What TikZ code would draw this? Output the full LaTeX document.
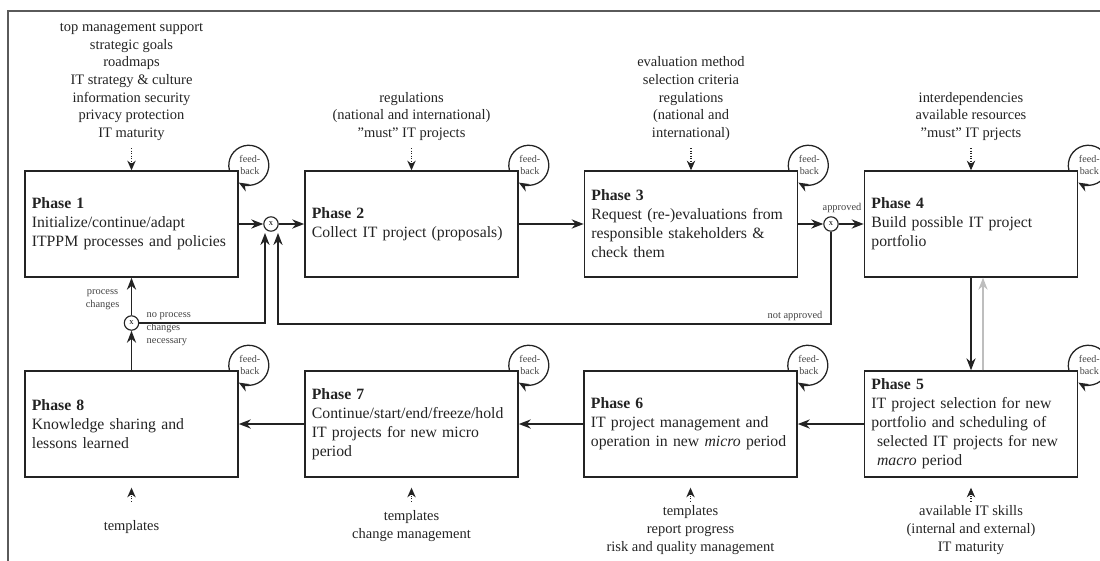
\documentclass[tikz,border=0pt]{standalone}
\usepackage{fontspec}
\setmainfont{Liberation Serif}
\usetikzlibrary{arrows.meta,calc}
\definecolor{ink}{RGB}{35,35,35}
\definecolor{framegray}{RGB}{90,90,90}
\definecolor{backgray}{RGB}{190,190,190}

\begin{document}
\begin{tikzpicture}[x=0.025cm, y=-0.025cm,
  phase/.style={draw=ink, line width=1pt, text=ink, minimum width=5.325cm, minimum height=2.65cm,
    text width=4.98cm, inner xsep=0.175cm, align=left, font=\fontsize{11.2}{13.5}\selectfont\hyphenpenalty10000\relax},
  note/.style={text=ink, align=center, inner sep=0pt, font=\fontsize{10.3}{12.6}\selectfont},
  smalllabel/.style={text=ink!85, inner sep=1pt, font=\fontsize{7.4}{9.2}\selectfont},
  fbtext/.style={text=ink!85, align=center, inner sep=0pt, font=\fontsize{7.2}{8.6}\selectfont},
  gate/.style={circle, draw=ink, line width=0.8pt, minimum size=0.36cm, inner sep=0pt, font=\fontsize{6}{6}\selectfont},
  flow/.style={draw=ink, line width=1pt, -{Stealth[length=3mm,width=2.3mm]}},
  input/.style={draw=ink, line width=0.8pt, densely dotted, -{Stealth[length=2.4mm,width=2.1mm]}},
  loopback/.style={draw=ink, line width=0.9pt, -{Stealth[length=2.6mm,width=2.1mm]}}]
\useasboundingbox (0,0) rectangle (1100,560);

% Frame
\draw[framegray, line width=1.5pt] (8,11) rectangle (1120,580);

% Phase boxes, upper row
\node[phase] (p1) at (131.5,224) {\textbf{Phase 1}\\Initialize/continue/adapt\\ITPPM processes and policies};
\node[phase] (p2) at (411.5,224) {\textbf{Phase 2}\\Collect IT project (proposals)};
\node[phase] (p3) at (691,224) {\textbf{Phase 3}\\Request (re-)evaluations from\\responsible stakeholders \&\\check them};
\node[phase] (p4) at (971,224) {\textbf{Phase 4}\\Build possible IT project\\portfolio};

% Phase boxes, lower row
\node[phase] (p5) at (971,424) {\textbf{Phase 5}\\IT project selection for new\\portfolio and scheduling of\\\hspace*{4pt}selected IT projects for new\\\hspace*{4pt}\textit{macro} period};
\node[phase] (p6) at (690.5,424) {\textbf{Phase 6}\\IT project management and\\operation in new \textit{micro} period};
\node[phase] (p7) at (411.5,424) {\textbf{Phase 7}\\Continue/start/end/freeze/hold\\IT projects for new micro\\period};
\node[phase] (p8) at (131.5,424) {\textbf{Phase 8}\\Knowledge sharing and\\lessons learned};

% Decision gates
\node[gate] (x1) at (271,224) {x};
\node[gate] (x2) at (831,224) {x};
\node[gate] (x3) at (131.5,323) {x};
\coordinate (x1l) at (265,233);
\coordinate (x1r) at (278,233);
\coordinate (retr) at (278,324);

% Main flow
\draw[flow] (p1) -- (x1);
\draw[flow] (x1) -- (p2);
\draw[flow] (p2) -- (p3);
\draw[flow] (p3) -- (x2);
\draw[flow] (x2) -- (p4);
\draw[flow] (x2) |- (retr) -- (x1r);
\draw[flow] (p4.south) -- (p5.north);
\draw[flow, draw=backgray] ([xshift=0.3cm]p5.north) -- ([xshift=0.3cm]p4.south);
\draw[flow] (p5) -- (p6);
\draw[flow] (p6) -- (p7);
\draw[flow] (p7) -- (p8);
\draw[flow] (p8) -- (x3);
\draw[flow] (x3) -- (p1);
\draw[flow] (x3) -| (x1l);

% Gate labels
\node[smalllabel, anchor=south] (lap) at (842,214) {approved};
\node[smalllabel, anchor=south east] (lnap) at (824,322) {not approved};
\node[smalllabel, align=center, anchor=east] (lpc) at (121,300) {process\\changes};
\node[smalllabel, align=left, anchor=north west] (lnpc) at (145,311) {no process\\changes\\necessary};

% Feedback loops
\node[fbtext] (fb1) at ($(p1.north east)+(11,-5)$) {feed-\\back};
\draw[loopback] ($(p1.north east)+(-9.4,0)$) arc[start angle=194.5, end angle=-120, radius=0.5cm];
\node[fbtext] (fb2) at ($(p2.north east)+(11,-5)$) {feed-\\back};
\draw[loopback] ($(p2.north east)+(-9.4,0)$) arc[start angle=194.5, end angle=-120, radius=0.5cm];
\node[fbtext] (fb3) at ($(p3.north east)+(11,-5)$) {feed-\\back};
\draw[loopback] ($(p3.north east)+(-9.4,0)$) arc[start angle=194.5, end angle=-120, radius=0.5cm];
\node[fbtext] (fb4) at ($(p4.north east)+(11,-5)$) {feed-\\back};
\draw[loopback] ($(p4.north east)+(-9.4,0)$) arc[start angle=194.5, end angle=-120, radius=0.5cm];
\node[fbtext] (fb5) at ($(p5.north east)+(11,-5)$) {feed-\\back};
\draw[loopback] ($(p5.north east)+(-9.4,0)$) arc[start angle=194.5, end angle=-120, radius=0.5cm];
\node[fbtext] (fb6) at ($(p6.north east)+(11,-5)$) {feed-\\back};
\draw[loopback] ($(p6.north east)+(-9.4,0)$) arc[start angle=194.5, end angle=-120, radius=0.5cm];
\node[fbtext] (fb7) at ($(p7.north east)+(11,-5)$) {feed-\\back};
\draw[loopback] ($(p7.north east)+(-9.4,0)$) arc[start angle=194.5, end angle=-120, radius=0.5cm];
\node[fbtext] (fb8) at ($(p8.north east)+(11,-5)$) {feed-\\back};
\draw[loopback] ($(p8.north east)+(-9.4,0)$) arc[start angle=194.5, end angle=-120, radius=0.5cm];

% Inputs from above
\node[note, anchor=south] (in1) at (131.5,141) {top management support\\strategic goals\\roadmaps\\IT strategy \& culture\\information security\\privacy protection\\IT maturity};
\node[note, anchor=south] (in2) at (411.5,141) {regulations\\(national and international)\\\symbol{34}must\symbol{34} IT projects};
\node[note, anchor=south] (in3) at (691,141) {evaluation method\\selection criteria\\regulations\\(national and\\international)};
\node[note, anchor=south] (in4) at (971,141) {interdependencies\\available resources\\\symbol{34}must\symbol{34} IT prjects};
\draw[input] (in1.south) ++(0,7) -- (p1.north);
\draw[input] (in2.south) ++(0,7) -- (p2.north);
\draw[input] (in3.south) ++(0,7) -- (p3.north);
\draw[input] (in4.south) ++(0,7) -- (p4.north);

% Inputs from below
\node[note] (in8) at (131.5,527) {templates};
\node[note] (in7) at (411.5,526) {templates\\change management};
\node[note] (in6) at (690.5,530) {templates\\report progress\\risk and quality management};
\node[note] (in5) at (971,530) {available IT skills\\(internal and external)\\IT maturity};
\draw[input] (p8.south) ++(0,24) -- ++(0,-14);
\draw[input] (p7.south) ++(0,24) -- ++(0,-14);
\draw[input] (p6.south) ++(0,24) -- ++(0,-14);
\draw[input] (p5.south) ++(0,24) -- ++(0,-14);
\end{tikzpicture}
\end{document}
